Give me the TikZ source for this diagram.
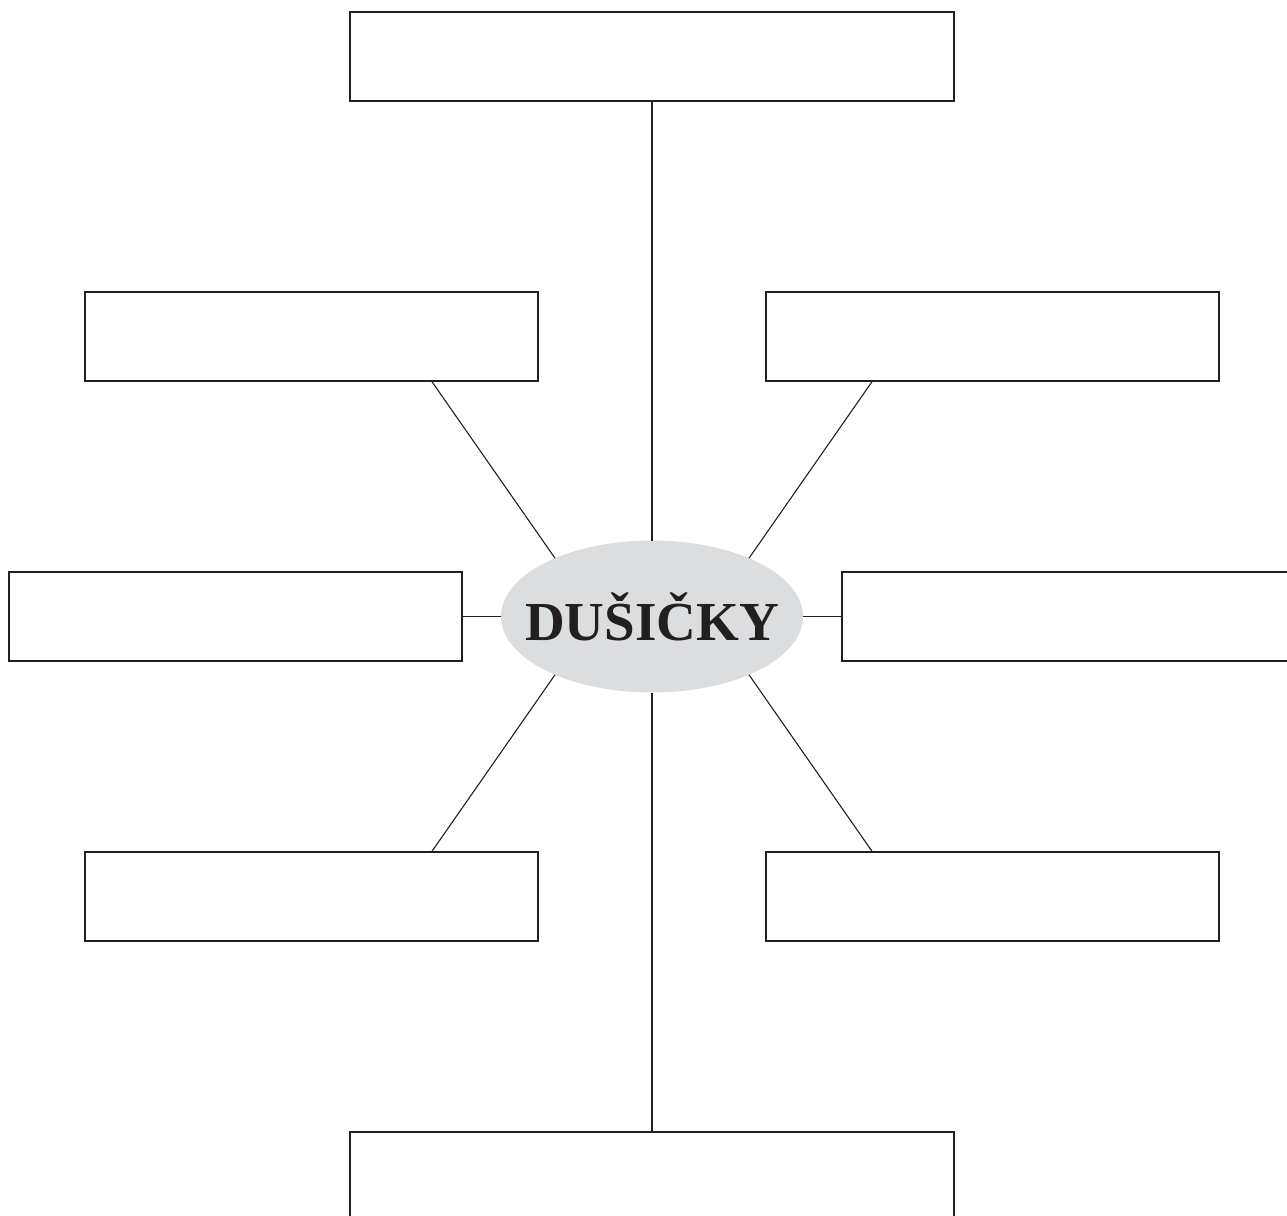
\documentclass[tikz,border=0pt]{standalone}
\usepackage{fontspec}
\setmainfont{Liberation Serif}
\usetikzlibrary{positioning,shapes.geometric}
\definecolor{hubgray}{HTML}{DCDDDF}
\definecolor{inkline}{HTML}{231F20}

\begin{document}
\begin{tikzpicture}[
            x=0.5pt, y=-0.5pt,
            box/.style={draw=inkline, line width=0.65pt, minimum height=44.5pt, minimum width=226.5pt, inner sep=0pt, outer sep=0pt},
            widebox/.style={box, minimum width=302pt},
            hubnode/.style={ellipse, fill=hubgray, minimum width=151pt, minimum height=76pt, inner sep=0pt, outer sep=0pt},
            link/.style={draw=inkline, line width=0.55pt}
        ]
            \useasboundingbox (0,0) rectangle (1287,1216);

            \node[hubnode] (hub) at (652,616.5) {};
            \node[font=\fontsize{27.5}{30}\selectfont\bfseries, text=inkline] (title) at (hub) {DUŠIČKY};

            \node[widebox] (top) at (652,56.5) {};
            \node[box] (ul) at (311.5,336.5) {};
            \node[box] (ur) at (992.5,336.5) {};
            \node[box] (ml) at (235.5,616.5) {};
            \node[box] (mr) at (1068.5,616.5) {};
            \node[box] (ll) at (311.5,896.5) {};
            \node[box] (lr) at (992.5,896.5) {};
            \node[widebox] (bot) at (652,1176.5) {};

            \draw[link] (top.south) -- (hub.north);
            \draw[link] ([xshift=60pt]ul.south) -- (hub.149);
            \draw[link] ([xshift=-60pt]ur.south) -- (hub.31);
            \draw[link] (ml.east) -- (hub.west);
            \draw[link] (mr.west) -- (hub.east);
            \draw[link] ([xshift=60pt]ll.north) -- (hub.211);
            \draw[link] ([xshift=-60pt]lr.north) -- (hub.329);
            \draw[link] (bot.north) -- (hub.south);
        \end{tikzpicture}
\end{document}
